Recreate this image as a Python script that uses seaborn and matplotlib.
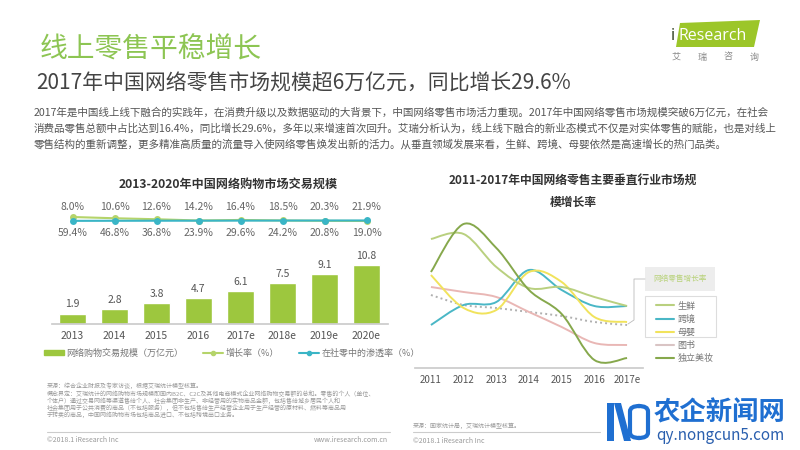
import numpy as np
import matplotlib
matplotlib.use("Agg")
import matplotlib.pyplot as plt
import seaborn as sns
from matplotlib.path import Path
from matplotlib.patches import PathPatch, Rectangle, Polygon, FancyBboxPatch, Patch
from matplotlib.lines import Line2D

sns.set_theme(style="white")
plt.rcParams['font.family'] = ['Noto Sans CJK SC', 'DejaVu Sans']

# ---- left chart data ----
years_left = ["2013", "2014", "2015", "2016", "2017e", "2018e", "2019e", "2020e"]
market_size = [1.9, 2.8, 3.8, 4.7, 6.1, 7.5, 9.1, 10.8]          # 万亿元
growth_rate = [59.4, 46.8, 36.8, 23.9, 29.6, 24.2, 20.8, 19.0]   # %
penetration = [8.0, 10.6, 12.6, 14.2, 16.4, 18.5, 20.3, 21.9]    # %

# ---- right chart data (no axis in source) ----
years_right = ["2011", "2012", "2013", "2014", "2015", "2016", "2017e"]
fresh = [129, 134, 101, 80, 81, 71, 62]
cross_border = [43, 63, 66, 98, 78, 62, 62]
mother_baby = [93, 60, 58, 96, 86, 51, 46]
books = [81, 76, 71, 56, 41, 25, 23]
beauty = [96, 144, 120, 78, 54, 8, 10]
online_retail = [73, 63, 60, 56, 52, 46, 43]

W, H = 800, 450
fig = plt.figure(figsize=(8, 4.5), dpi=100)
fig.patch.set_facecolor("white")


def fx(px):
    return px / W


def fy(py):
    return 1 - py / H


def box(l, t, r, b):
    return [l / W, 1 - b / H, (r - l) / W, (b - t) / H]


BAR = "#9dc73e"
GREEN_LINE = "#b5d46a"
TEAL = "#3ab5c6"
GRAY_TXT = "#666666"

# ------------------------------
# header
# ------------------------------
fig.text(fx(40), fy(50), "线上零售平稳增长", fontsize=20, color="#8dc553",
         va="center", ha="left")
fig.text(fx(36), fy(83), "2017年中国网络零售市场规模超6万亿元，同比增长29.6%",
         fontsize=15, color="#444444", va="center", ha="left")
para = [
    "2017年是中国线上线下融合的实践年，在消费升级以及数据驱动的大背景下，中国网络零售市场活力重现。2017年中国网络零售市场规模突破6万亿元，在社会",
    "消费品零售总额中占比达到16.4%，同比增长29.6%，多年以来增速首次回升。艾瑞分析认为，线上线下融合的新业态模式不仅是对实体零售的赋能，也是对线上",
    "零售结构的重新调整，更多精准高质量的流量导入使网络零售焕发出新的活力。从垂直领域发展来看，生鲜、跨境、母婴依然是高速增长的热门品类。",
]
for i, line in enumerate(para):
    fig.text(fx(34), fy(112 + 16 * i), line, fontsize=7.6, color="#555555",
             va="center", ha="left")

# iResearch logo
fig.patches.append(Polygon([(fx(680), fy(23)), (fx(760), fy(20)), (fx(754), fy(47)), (fx(676), fy(47))],
                           closed=True, facecolor="#9cc629", edgecolor="none",
                           transform=fig.transFigure, figure=fig))
fig.text(fx(671), fy(36), "i", fontsize=12, color="#2b3a1a", va="center", ha="left",
         family="Open Sans")
fig.text(fx(679), fy(36), "Research", fontsize=11.5, color="white", va="center", ha="left",
         family="Open Sans")
for i, ch in enumerate("艾瑞咨询"):
    fig.text(fx(676 + 26 * i), fy(57), ch, fontsize=6.5, color="#888888",
             va="center", ha="center")

# ------------------------------
# left chart: bars
# ------------------------------
fig.text(fx(228), fy(184), "2013-2020年中国网络购物市场交易规模", fontsize=8.7,
         weight="bold", color="#333333", ha="center", va="center")

ax_bar = fig.add_axes(box(51.5, 250, 387.5, 324))
sns.barplot(x=years_left, y=market_size, color=BAR, width=0.62, ax=ax_bar,
            saturation=1)
ax_bar.set_xlim(-0.5, 7.5)
ax_bar.set_ylim(0, 13.55)
ax_bar.bar_label(ax_bar.containers[0], labels=[f"{v:.1f}" for v in market_size],
                 padding=3, fontsize=7.5, color="#555555")
for s in ["top", "left", "right"]:
    ax_bar.spines[s].set_visible(False)
ax_bar.spines["bottom"].set_color("#cccccc")
ax_bar.set_yticks([])
ax_bar.tick_params(axis="x", length=0, pad=5, labelsize=7.5, labelcolor="#555555")
ax_bar.set_facecolor("none")

# left chart: rate lines
ax_g = fig.add_axes(box(51.5, 210, 387.5, 228))
sns.lineplot(x=list(range(8)), y=growth_rate, ax=ax_g, color=GREEN_LINE, marker="o",
             markersize=5, markeredgewidth=0, linewidth=1.5)
ax_g.set_ylim(-51.7, 130.1)
ax_p = ax_g.twinx()
sns.lineplot(x=list(range(8)), y=penetration, ax=ax_p, color=TEAL, marker="o",
             markersize=5, markeredgewidth=0, linewidth=1.5)
ax_p.set_ylim(-250, 400)
for a in (ax_g, ax_p):
    a.set_xlim(-0.5, 7.5)
    a.axis("off")
for i in range(8):
    ax_g.text(i, 1.17, f"{penetration[i]:.1f}%", transform=ax_g.get_xaxis_transform(),
              ha="center", va="center", fontsize=7.5, color=GRAY_TXT)
    ax_g.text(i, -0.28, f"{growth_rate[i]:.1f}%", transform=ax_g.get_xaxis_transform(),
              ha="center", va="center", fontsize=7.5, color=GRAY_TXT)

fig.legend(handles=[Patch(color=BAR),
                    Line2D([], [], color=GREEN_LINE, marker="o", ms=3, lw=1.5),
                    Line2D([], [], color=TEAL, marker="o", ms=3, lw=1.5)],
           labels=["网络购物交易规模（万亿元）", "增长率（%）", "在社零中的渗透率（%）"],
           loc="center", bbox_to_anchor=(fx(232), fy(353)), ncol=3, frameon=False,
           fontsize=6.5, handlelength=2.2, handleheight=0.5, columnspacing=2.2,
           handletextpad=0.3, labelcolor="#777777")

# left footnotes
notes_left = [
    "来源：综合企业财报及专家访谈，根据艾瑞统计模型核算。",
    "概念界定：艾瑞统计的网络购物市场规模即国内B2C、C2C及其他电商模式企业网络购物交易额的总和。零售的个人（单位、",
    "个体户）通过交易网络等渠道售给个人、社会集团非生产、非经营用的实物商品金额，包括售给城乡居民个人和",
    "社会集团用于公共消费的商品（不包括服务），但不包括售给生产经营企业用于生产经营的原材料、燃料等商品用",
    "于转卖的商品，中国网络购物市场包括商品进口、不包括跨境出口业务。",
]
for i, line in enumerate(notes_left):
    fig.text(fx(47), fy(386 + 7.3 * i), line, fontsize=4.3, color="#999999",
             va="center", ha="left")
fig.add_artist(Line2D([fx(47), fx(390)], [fy(432), fy(432)], color="#cccccc", lw=0.8))
fig.text(fx(47), fy(440), "©2018.1 iResearch Inc", fontsize=5, color="#999999",
         va="center", ha="left")
fig.text(fx(388), fy(440), "www.iresearch.com.cn", fontsize=5, color="#999999",
         va="center", ha="right")

# ------------------------------
# right chart: smoothed growth curves
# ------------------------------
fig.text(fx(573), fy(180), "2011-2017年中国网络零售主要垂直行业市场规", fontsize=8.5,
         weight="bold", color="#333333", ha="center", va="center")
fig.text(fx(573), fy(202), "模增长率", fontsize=8.5, weight="bold", color="#333333",
         ha="center", va="center")

ax_r = fig.add_axes(box(414.6, 208, 643.4, 368))
ax_r.set_xlim(-0.5, 6.5)
ax_r.set_ylim(0, 160)


def smooth_path(ys):
    pts = np.column_stack([np.arange(len(ys)), np.asarray(ys, dtype=float)])
    n = len(pts)
    verts, codes = [pts[0]], [Path.MOVETO]
    for i in range(n - 1):
        p0, p1 = pts[max(i - 1, 0)], pts[i]
        p2, p3 = pts[i + 1], pts[min(i + 2, n - 1)]
        verts += [p1 + (p2 - p0) / 6, p2 - (p3 - p1) / 6, p2]
        codes += [Path.CURVE4] * 3
    return Path(verts, codes)


series = [
    ("网络零售增长率", online_retail, "#b0b0b0", (0, (1, 1.6))),
    ("图书", books, "#e9b7b5", "-"),
    ("跨境", cross_border, "#4ab7c6", "-"),
    ("母婴", mother_baby, "#f1e35c", "-"),
    ("生鲜", fresh, "#b9d07f", "-"),
    ("独立美妆", beauty, "#86a84c", "-"),
]
for name, vals, col, ls in series:
    ax_r.add_patch(PathPatch(smooth_path(vals), fill=False, edgecolor=col, lw=1.4,
                             linestyle=ls))

ax_r.set_xticks(range(7))
ax_r.set_xticklabels(years_right)
ax_r.set_yticks([])
for s in ["top", "left", "right"]:
    ax_r.spines[s].set_visible(False)
ax_r.spines["bottom"].set_color("#cccccc")
ax_r.tick_params(axis="x", length=0, pad=5, labelsize=7, labelcolor="#555555")
ax_r.set_facecolor("none")

# right legend
fig.patches.append(Rectangle((fx(645), fy(291)), fx(715) - fx(645), fy(267) - fy(291),
                             facecolor="#ededed", edgecolor="none",
                             transform=fig.transFigure, figure=fig))
fig.text(fx(680), fy(279), "网络零售增长率", fontsize=5.5, color="#b8d27a",
         ha="center", va="center")
fig.add_artist(Line2D([fx(628), fx(634), fx(634), fx(645)],
                      [fy(324), fy(320), fy(279), fy(279)], color="#bbbbbb", lw=0.6))
fig.patches.append(Rectangle((fx(645), fy(337)), fx(716) - fx(645), fy(296) - fy(337),
                             facecolor="none", edgecolor="#dddddd", lw=0.8,
                             transform=fig.transFigure, figure=fig))
leg_items = [("生鲜", "#b9d07f"), ("跨境", "#4ab7c6"), ("母婴", "#f1e35c"),
             ("图书", "#d9c4c4"), ("独立美妆", "#86a84c")]
fig.legend(handles=[Line2D([], [], color=c, lw=1.5) for _, c in leg_items],
           labels=[n for n, _ in leg_items], loc="upper left",
           bbox_to_anchor=(fx(651), fy(297)), frameon=False, fontsize=6.5,
           handlelength=2.1, handletextpad=0.3, labelspacing=0.45, borderpad=0,
           labelcolor="#777777")

# right footnotes
fig.text(fx(413), fy(426), "来源：国家统计局，艾瑞统计模型核算。", fontsize=4.3,
         color="#999999", va="center", ha="left")
fig.add_artist(Line2D([fx(413), fx(600)], [fy(432), fy(432)], color="#cccccc", lw=0.8))
fig.text(fx(413), fy(441), "©2018.1 iResearch Inc", fontsize=5, color="#999999",
         va="center", ha="left")

# watermark
WM = "#1f6fd1"
fig.patches.append(Polygon([(fx(607), fy(403)), (fx(614), fy(403)), (fx(614), fy(441)),
                            (fx(607), fy(441))], closed=True, facecolor=WM,
                           edgecolor="none", transform=fig.transFigure, figure=fig))
fig.patches.append(Polygon([(fx(614), fy(403)), (fx(621), fy(403)), (fx(631), fy(441)),
                            (fx(624), fy(441))], closed=True, facecolor=WM,
                           edgecolor="none", transform=fig.transFigure, figure=fig))
fig.patches.append(FancyBboxPatch((fx(630), fy(438)), fx(648) - fx(630), fy(406) - fy(438),
                                  boxstyle="round,pad=0,rounding_size=0.012",
                                  facecolor="none", edgecolor=WM, lw=3,
                                  transform=fig.transFigure, figure=fig))
fig.text(fx(654), fy(413), "农企新闻网", fontsize=19, weight="bold", color=WM,
         va="center", ha="left")
fig.text(fx(656), fy(436), "qy.nongcun5.com", fontsize=11, color="#2a5fae",
         va="center", ha="left")

fig.savefig("out.png", dpi=100, facecolor="white")
